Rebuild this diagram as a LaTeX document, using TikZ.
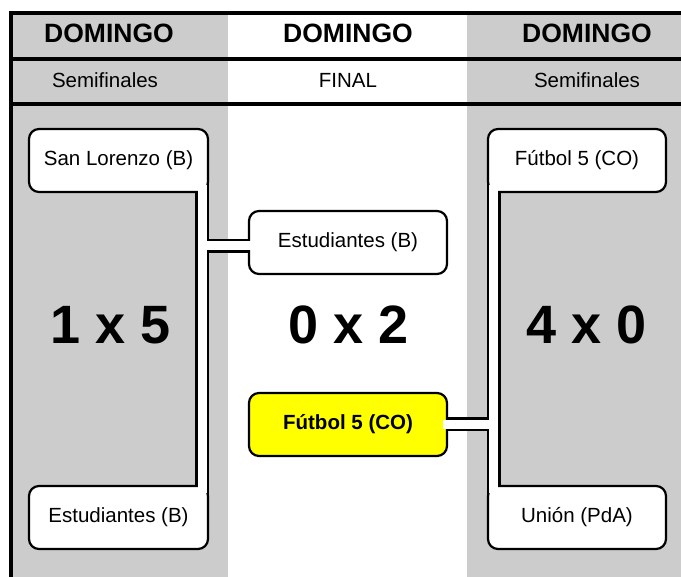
\documentclass[tikz,border=0pt]{standalone}
\usepackage{fontspec}
\setmainfont{Liberation Sans}
\usetikzlibrary{calc}
\definecolor{colgray}{RGB}{204,204,204}
\definecolor{winyellow}{RGB}{255,255,0}
\pgfdeclarelayer{bg}
\pgfdeclarelayer{strips}
\pgfdeclarelayer{fg}
\pgfsetlayers{bg,strips,main,fg}
\tikzset{
  teambox/.style={draw=black, line width=2.2pt, fill=white, rounded corners=10pt,
    minimum height=63pt, inner sep=0pt, font=\fontsize{20.5}{24}\selectfont},
  winbox/.style={teambox, fill=winyellow, font=\fontsize{20.5}{24}\selectfont\bfseries},
  headday/.style={inner sep=0pt, font=\fontsize{26.5}{30}\selectfont\bfseries},
  headround/.style={inner sep=0pt, font=\fontsize{20.5}{24}\selectfont},
  score/.style={inner sep=0pt, font=\fontsize{54}{60}\selectfont\bfseries},
  stripout/.style={line width=14pt, draw=black, line cap=butt},
  stripin/.style={line width=9pt, draw=white, line cap=butt},
  frameline/.style={line width=4.5pt, draw=black}
}
\begin{document}
\begin{tikzpicture}[x=1pt, y=-1pt]
\useasboundingbox (0,0) rectangle (681,577);
% backgrounds
\begin{pgfonlayer}{bg}
  \fill[white] (0,0) rectangle (681,577);
  \fill[colgray] (11,11) rectangle (228,577);
  \fill[colgray] (467,11) rectangle (681,577);
  \draw[frameline, line join=miter] (11,577) -- (11,13) -- (681,13);
  \draw[frameline] (11,58.8) -- (681,58.8);
  \draw[frameline] (11,104) -- (681,104);
\end{pgfonlayer}
% header texts
\node[headday] (h1) at (109,33.5) {DOMINGO};
\node[headday] (h2) at (348,33.5) {DOMINGO};
\node[headday] (h3) at (587,33.5) {DOMINGO};
\node[headround] (s1) at (105,80.5) {Semifinales};
\node[headround] (s2) at (348,80) {FINAL};
\node[headround] (s3) at (587,80.5) {Semifinales};
% team boxes
\node[teambox, minimum width=179pt] (tl) at (118.5,160.5) {San Lorenzo (B)};
\node[teambox, minimum width=179pt] (bl) at (118.5,517.5) {Estudiantes (B)};
\node[teambox, minimum width=178pt] (tr) at (577,160.5) {Fútbol 5 (CO)};
\node[teambox, minimum width=178pt] (br) at (577,517.5) {Unión (PdA)};
\node[teambox, minimum width=198pt] (cf) at (348,242.5) {Estudiantes (B)};
\node[winbox, minimum width=198pt] (win) at (348,424.5) {Fútbol 5 (CO)};
% scores
\node[score] (sc1) at (111,325) {1 x 5};
\node[score] (sc2) at (349,325) {0 x 2};
\node[score] (sc3) at (587,325) {4 x 0};
% connector coordinates
\coordinate (lx) at (202,0);
\coordinate (rx) at (493.5,0);
\coordinate (lj) at (202,246);
% outer (black) strips
\begin{pgfonlayer}{strips}
  \draw[stripout] (tl.south -| lx) -- (bl.north -| lx);
  \draw[stripout, shorten <=-10pt, shorten >=-10pt] (tl.south -| lx) -- (bl.north -| lx);
  \draw[stripout, shorten >=-4pt] (lj) -- (lj -| cf.west);
  \draw[stripout, shorten <=-10pt, shorten >=-10pt] (tr.south -| rx) -- (br.north -| rx);
  \draw[stripout, shorten <=-4pt] (win.east) -- (win.east -| rx);
\end{pgfonlayer}
% inner (white) strips
\begin{pgfonlayer}{fg}
  \draw[stripin, shorten <=-8pt, shorten >=-8pt] (tl.south -| lx) -- (bl.north -| lx);
  \draw[stripin, shorten >=-6pt] (lj) -- (lj -| cf.west);
  \draw[stripin, shorten <=-8pt, shorten >=-8pt] (tr.south -| rx) -- (br.north -| rx);
  \draw[stripin, shorten <=-5pt] (win.east) -- (win.east -| rx);
\end{pgfonlayer}
\end{tikzpicture}
\end{document}
